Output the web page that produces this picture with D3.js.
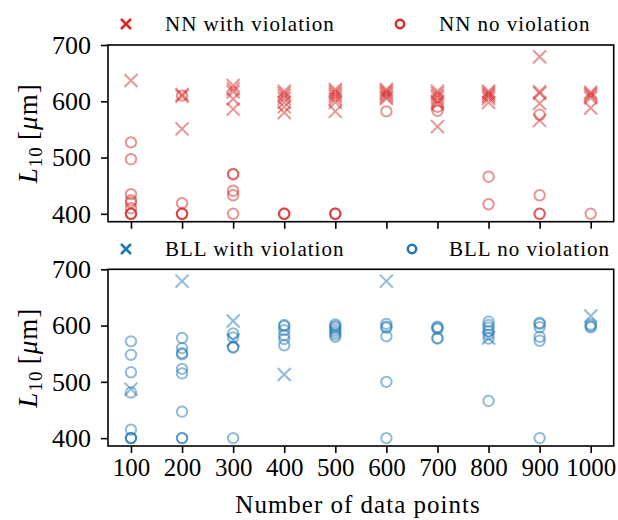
<!DOCTYPE html>
<html>
<head>
<meta charset="utf-8">
<script src="https://cdn.jsdelivr.net/npm/d3@7"></script>
<style>
  body { margin: 0; background: #fff; }
  text { font-family: "Liberation Serif", serif; fill: #000; }
</style>
</head>
<body>
<svg id="chart" width="618" height="520"></svg>
<script>
// number of data points (x categories)
var nPoints = [100, 200, 300, 400, 500, 600, 700, 800, 900, 1000];
var yTicks = [400, 500, 600, 700];

// L10 values per x category
var nnViolation = [
  [637],
  [612, 609, 551],
  [628, 622, 617, 604, 586],
  [618, 614, 610, 605, 598, 590, 580],
  [621, 617, 613, 609, 604, 598, 582],
  [621, 618, 615, 612, 608, 605],
  [618, 614, 610, 606, 600, 596, 555],
  [618, 615, 612, 609, 605, 598],
  [679, 617, 614, 596, 566],
  [616, 613, 610, 606, 588]
];
var nnNoViolation = [
  [527, 497, 435, 424, 420, 410, 400, 400, 400],
  [610, 419, 400, 400, 400],
  [471, 470, 441, 433, 400],
  [400, 400, 400],
  [400, 400, 400],
  [582],
  [590, 583],
  [466, 417],
  [576, 433, 400, 400],
  [400]
];
var bllViolation = [
  [487],
  [679],
  [608, 574],
  [513],
  [],
  [679],
  [],
  [578],
  [],
  [617]
];
var bllNoViolation = [
  [572, 548, 517, 481, 415, 400, 400, 400],
  [578, 560, 551, 549, 523, 515, 447, 400, 400],
  [586, 579, 562, 561, 400],
  [601, 599, 592, 583, 576, 565],
  [602, 599, 596, 592, 588, 584, 580],
  [603, 598, 596, 581, 500, 400],
  [598, 596, 594, 578, 577],
  [607, 601, 596, 590, 584, 577, 466],
  [605, 603, 597, 580, 573, 400],
  [602, 599, 597]
];

var red = '#d62728', blue = '#1f77b4';
var svg = d3.select('#chart');

var x = d3.scaleLinear().domain([55, 1045]).range([108, 613.7]);

// flatten [category][values] into points
function flat(series) {
  var pts = [];
  series.forEach(function(vals, i) {
    vals.forEach(function(v) { pts.push({x: nPoints[i], y: v}); });
  });
  return pts;
}

function crossPath(s) {
  return 'M' + (-s) + ',' + (-s) + 'L' + s + ',' + s + 'M' + (-s) + ',' + s + 'L' + s + ',' + (-s);
}

function panel(top, bottom, violation, noViolation, color, labels, legendY, circleX, textX2, showXAxis) {
  var y = d3.scaleLinear().domain([386, 700]).range([bottom, top]);
  var g = svg.append('g');

  // markers, half transparent
  g.selectAll('circle.pt').data(flat(noViolation)).enter().append('circle')
    .attr('class', 'pt')
    .attr('cx', function(d) { return x(d.x); })
    .attr('cy', function(d) { return y(d.y); })
    .attr('r', 5.2)
    .attr('fill', 'none')
    .attr('stroke', color)
    .attr('stroke-width', 2)
    .attr('stroke-opacity', 0.5);

  g.selectAll('path.pt').data(flat(violation)).enter().append('path')
    .attr('class', 'pt')
    .attr('transform', function(d) { return 'translate(' + x(d.x) + ',' + y(d.y) + ')'; })
    .attr('d', crossPath(6.5))
    .attr('stroke', color)
    .attr('stroke-width', 2)
    .attr('stroke-opacity', 0.5);

  // axes
  var yAxis = d3.axisLeft(y).tickValues(yTicks).tickSize(7).tickPadding(10);
  var ga = g.append('g').attr('transform', 'translate(108,0)').call(yAxis);
  ga.select('.domain').remove();
  ga.selectAll('line').attr('stroke-width', 1.6);
  ga.selectAll('text').style('font-size', '26px').attr('font-family', null);

  var xAxis = d3.axisBottom(x).tickValues(nPoints).tickFormat(d3.format('d')).tickSize(7).tickPadding(5);
  var gx = g.append('g').attr('transform', 'translate(0,' + bottom + ')').call(xAxis);
  gx.select('.domain').remove();
  gx.selectAll('line').attr('stroke-width', 1.6);
  gx.selectAll('text').style('font-size', '25px').attr('font-family', null);
  if (!showXAxis) gx.selectAll('text').remove();

  g.append('rect')
    .attr('x', 108).attr('y', top)
    .attr('width', 613.7 - 108).attr('height', bottom - top)
    .attr('fill', 'none').attr('stroke', '#000').attr('stroke-width', 1.6);

  // y label: L_10 [mu m]
  var yl = g.append('text')
    .attr('transform', 'translate(37,' + ((top + bottom) / 2) + ') rotate(-90)')
    .attr('text-anchor', 'middle')
    .style('font-size', '27px')
    .style('letter-spacing', '1px');
  yl.append('tspan').style('font-style', 'italic').text('L');
  yl.append('tspan').attr('dy', 5).style('font-size', '19px').text('10');
  yl.append('tspan').attr('dy', -5).text('\u2009[');
  yl.append('tspan').style('font-style', 'italic').text('μ');
  yl.append('tspan').text('m]');

  // legend
  g.append('path')
    .attr('transform', 'translate(126,' + legendY + ')')
    .attr('d', crossPath(5))
    .attr('stroke', color).attr('stroke-width', 2.5);
  g.append('text').attr('x', 165).attr('y', legendY + 7)
    .style('font-size', '21px').style('letter-spacing', '1px').text(labels[0]);
  g.append('circle')
    .attr('cx', circleX).attr('cy', legendY).attr('r', 4.2)
    .attr('fill', 'none').attr('stroke', color).attr('stroke-width', 2.5);
  g.append('text').attr('x', textX2).attr('y', legendY + 7)
    .style('font-size', '21px').style('letter-spacing', '1px').text(labels[1]);
}

panel(45, 221.7, nnViolation, nnNoViolation, red,
  ['NN with violation', 'NN no violation'], 24, 400, 439, false);
panel(269.3, 446, bllViolation, bllNoViolation, blue,
  ['BLL with violation', 'BLL no violation'], 249, 412, 449, true);

svg.append('text')
  .attr('x', 358).attr('y', 513)
  .attr('text-anchor', 'middle')
  .style('font-size', '25px').style('letter-spacing', '1px')
  .text('Number of data points');
</script>
</body>
</html>
